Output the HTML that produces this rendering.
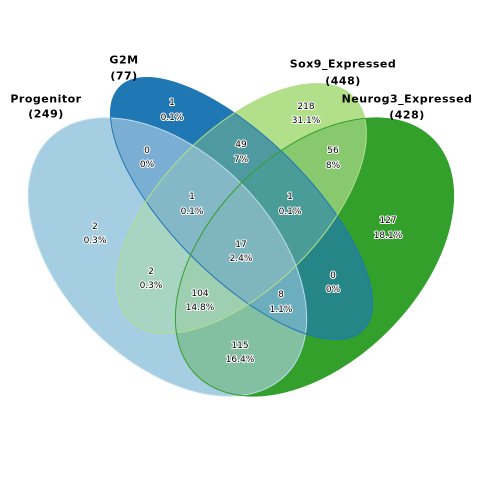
<!DOCTYPE html>
<html><head><meta charset="utf-8"><style>
html,body{margin:0;padding:0;background:#fff;}
svg{display:block;}
.c{font-family:"DejaVu Sans","Liberation Sans",sans-serif;font-size:9px;fill:#000;stroke:#fff;stroke-width:2px;paint-order:stroke;stroke-linejoin:round;}
.l{font-family:"DejaVu Sans","Liberation Sans",sans-serif;font-size:11px;font-weight:bold;fill:#000;letter-spacing:0.5px;}
</style></head><body>
<svg width="480" height="480" viewBox="0 0 480 480">
<defs>
<ellipse id="eP" cx="0" cy="0" rx="167" ry="104" transform="translate(167.5,257) rotate(45)"/>
<ellipse id="eG" cx="0" cy="0" rx="172" ry="69" transform="translate(241.5,208.5) rotate(45)"/>
<ellipse id="eS" cx="0" cy="0" rx="158" ry="79" transform="translate(241.5,208.5) rotate(-45)"/>
<ellipse id="eN" cx="0" cy="0" rx="167" ry="104" transform="translate(314.5,257) rotate(-45)"/>
<clipPath id="cP"><use href="#eP"/></clipPath>
<clipPath id="cG"><use href="#eG"/></clipPath>
<clipPath id="cS"><use href="#eS"/></clipPath>
<clipPath id="cN"><use href="#eN"/></clipPath>
</defs>
<g>
<use href="#eP" fill="#a6cee3"/>
<use href="#eG" fill="#1f78b4"/>
<use href="#eS" fill="#b2df8a"/>
<use href="#eN" fill="#33a02c"/>
<g clip-path="url(#cP)"><use href="#eG" fill="#7aafd3"/></g>
<g clip-path="url(#cP)"><use href="#eS" fill="#a8d4c4"/></g>
<g clip-path="url(#cP)"><use href="#eN" fill="#83bfa1"/></g>
<g clip-path="url(#cG)"><use href="#eS" fill="#4f9aa0"/></g>
<g clip-path="url(#cG)"><use href="#eN" fill="#268586"/></g>
<g clip-path="url(#cS)"><use href="#eN" fill="#88c86e"/></g>
<g clip-path="url(#cP)"><g clip-path="url(#cG)"><use href="#eS" fill="#84b8c6"/></g></g>
<g clip-path="url(#cP)"><g clip-path="url(#cG)"><use href="#eN" fill="#6cadbe"/></g></g>
<g clip-path="url(#cP)"><g clip-path="url(#cS)"><use href="#eN" fill="#9ecfb0"/></g></g>
<g clip-path="url(#cG)"><g clip-path="url(#cS)"><use href="#eN" fill="#4a9c98"/></g></g>
<g clip-path="url(#cP)"><g clip-path="url(#cG)"><g clip-path="url(#cS)"><use href="#eN" fill="#7fb5bd"/></g></g></g>
</g>
<g fill="none" stroke-width="1">
<use href="#eP" stroke="#bcdcec"/>
<use href="#eG" stroke="#1f78b4"/>
<use href="#eS" stroke="#b2df8a"/>
<use href="#eN" stroke="#33a02c"/>
</g>
<g text-anchor="middle" dominant-baseline="central">
<text class="l" x="124" y="60">G2M</text>
<text class="l" x="124" y="76">(77)</text>
<text class="l" x="343" y="64">Sox9_Expressed</text>
<text class="l" x="343" y="81">(448)</text>
<text class="l" x="407" y="99">Neurog3_Expressed</text>
<text class="l" x="407" y="115">(428)</text>
<text class="l" x="46" y="99">Progenitor</text>
<text class="l" x="46" y="114">(249)</text>

<g><text class="c" x="172" y="103">1</text><text class="c" x="172" y="118">0.1%</text></g>
<g><text class="c" x="306" y="107">218</text><text class="c" x="306" y="121">31.1%</text></g>
<g><text class="c" x="147" y="151">0</text><text class="c" x="147" y="165">0%</text></g>
<g><text class="c" x="241" y="145">49</text><text class="c" x="241" y="160">7%</text></g>
<g><text class="c" x="333" y="151">56</text><text class="c" x="333" y="166">8%</text></g>
<g><text class="c" x="192" y="197">1</text><text class="c" x="192" y="212">0.1%</text></g>
<g><text class="c" x="290" y="197">1</text><text class="c" x="290" y="212">0.1%</text></g>
<g><text class="c" x="95" y="227">2</text><text class="c" x="95" y="241">0.3%</text></g>
<g><text class="c" x="388" y="221">127</text><text class="c" x="388" y="236">18.1%</text></g>
<g><text class="c" x="241" y="245">17</text><text class="c" x="241" y="259">2.4%</text></g>
<g><text class="c" x="151" y="272">2</text><text class="c" x="151" y="286">0.3%</text></g>
<g><text class="c" x="333" y="276">0</text><text class="c" x="333" y="290">0%</text></g>
<g><text class="c" x="200" y="294">104</text><text class="c" x="200" y="308">14.8%</text></g>
<g><text class="c" x="281" y="295">8</text><text class="c" x="281" y="310">1.1%</text></g>
<g><text class="c" x="240" y="346">115</text><text class="c" x="240" y="360">16.4%</text></g>
</g>
</svg>
</body></html>
